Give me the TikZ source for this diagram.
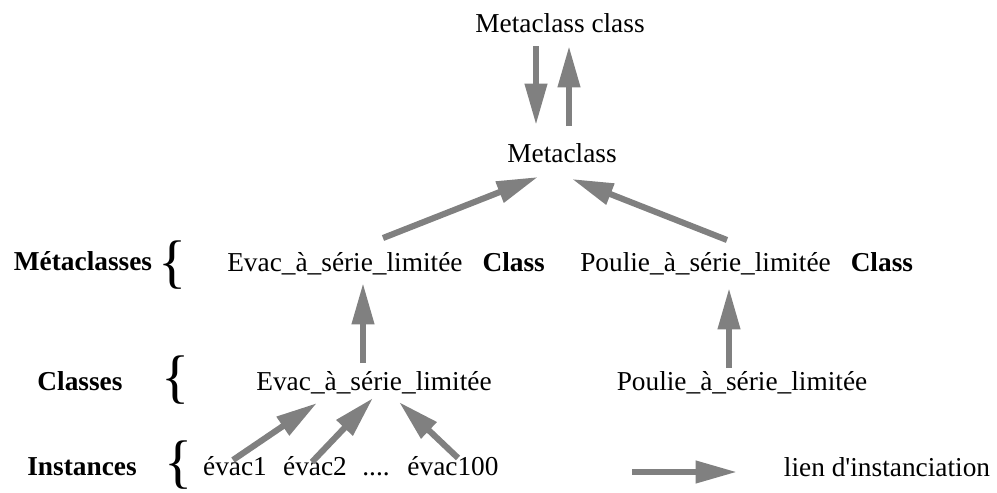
\documentclass[tikz,border=0pt]{standalone}
\usepackage{fontspec}
\setmainfont{Liberation Serif}
\usetikzlibrary{arrows.meta,calc}

\tikzset{
  txt/.style={inner sep=0pt, anchor=base, font=\fontsize{20.5}{24}\selectfont},
  cat/.style={txt, font=\fontsize{20.5}{24}\selectfont\bfseries},
  brace/.style={inner sep=0pt, font=\fontsize{44}{44}\selectfont},
  instarrow/.style={draw=gray, line width=4.6pt, -{Triangle[length=31pt,width=16pt]}}
}

\begin{document}
\begin{tikzpicture}[x=0.75pt, y=-0.75pt]
  \useasboundingbox (0,0) rectangle (997,493);
  % top of the hierarchy
  \node[txt] (mcc) at (560,32) {Metaclass class};
  \node[txt] (mc) at (562,162) {Metaclass};
  % rows of classes
  \node[txt, anchor=base west] (evacmeta) at (227,271) {Evac\_à\_série\_limitée\hspace{15pt}\textbf{Class}};
  \node[txt, anchor=base west] (pouliemeta) at (580,271) {Poulie\_à\_série\_limitée\hspace{15pt}\textbf{Class}};
  \node[txt] (evac) at (374,390) {Evac\_à\_série\_limitée};
  \node[txt] (poulie) at (742,390) {Poulie\_à\_série\_limitée};
  % instances
  \node[txt] (ev1) at (235,475) {évac1};
  \node[txt] (ev2) at (315,475) {évac2};
  \node[txt] (evdots) at (376,475) {....};
  \node[txt] (ev100) at (453,475) {évac100};
  % level labels with braces
  \node[cat] (lblmeta) at (83,270) {Métaclasses};
  \node[cat] (lblclass) at (80,390) {Classes};
  \node[cat] (lblinst) at (82,475) {Instances};
  \node[brace] (brmeta) at (173,265) {\{};
  \node[brace] (brclass) at (176,380) {\{};
  \node[brace] (brinst) at (179,465) {\{};
  % instantiation links
  \draw[instarrow] ($(mcc.base)+(-24,14)$) -- ($(mc.base)+(-26,-37)$);
  \draw[instarrow] ($(mc.base)+(7,-36)$) -- ($(mcc.base)+(9,14)$);
  \draw[instarrow] ($(evacmeta.base west)+(156,-33)$) -- ($(mc.base)+(-24,15)$);
  \draw[instarrow] ($(pouliemeta.base west)+(147,-31)$) -- ($(mc.base)+(10,17)$);
  \draw[instarrow] ($(evac.base)+(-11,-27)$) -- ($(evacmeta.base west)+(136,12)$);
  \draw[instarrow] ($(poulie.base)+(-13,-22)$) -- ($(pouliemeta.base west)+(149,17)$);
  \draw[instarrow] ($(ev1.base)+(-2,-15)$) -- ($(evac.base)+(-57,13)$);
  \draw[instarrow] ($(ev2.base)+(-3,-13)$) -- ($(evac.base)+(-1,8)$);
  \draw[instarrow] ($(ev100.base)+(5,-17)$) -- ($(evac.base)+(25,12)$);
  % legend
  \node[txt] (lien) at (887,476) {lien d\textquotesingle instanciation};
  \coordinate (legtail) at (632,472);
  \draw[instarrow] (legtail) -- ($(lien.base)+(-150,-4)$);
\end{tikzpicture}
\end{document}
